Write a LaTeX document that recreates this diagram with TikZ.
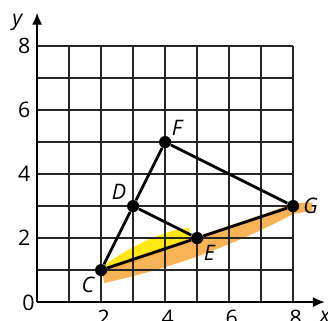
\documentclass[tikz,border=0pt]{standalone}
\usepackage{fontspec}
\setmainfont{Open Sans}
\usetikzlibrary{arrows.meta, positioning}
\definecolor{hlYellow}{RGB}{255,232,20}
\definecolor{hlOrange}{RGB}{246,166,55}
\tikzset{
    ptNode/.style={
        circle,
        fill=black,
        inner sep=0pt,
        minimum size=1.9mm
    },
    ptLabel/.style={font=\itshape\fontsize{9.5}{11}\selectfont, inner sep=1.5pt},
    tickLabel/.style={font=\fontsize{9.5}{11}\selectfont},
    gridLine/.style={black!85, line width=0.8pt},
    segLine/.style={line width=1.25pt}
}

\begin{document}
\begin{tikzpicture}[x=0.5cm, y=0.5cm, >={Latex[length=1.9mm, width=1.6mm]}]
            \useasboundingbox (-1.16,-0.59) rectangle (9.09,9.44);

            % Highlighter marks
            \fill[hlYellow] (2.05,1.12) .. controls (3,1.8) and (4,2.25) .. (4.75,2.32)
                -- (4.8,2.0) .. controls (4,1.6) and (3,1.2) .. (2.1,0.95) -- cycle;
            \fill[hlOrange, opacity=0.85] (2.0,1.05) .. controls (4,1.75) and (6,2.35) .. (8,3.08)
                -- (8.6,3.12) -- (8.6,2.85) -- (8,2.75)
                .. controls (6,1.7) and (4,1.0) .. (2.1,0.6) -- cycle;

            % Grid
            \draw[gridLine, step=0.5cm] (0,0) grid (8,8);

            % Axes
            \coordinate (O) at (0,0);
            \coordinate (xEnd) at (9.0,0);
            \coordinate (yEnd) at (0,9.05);
            \draw[->, line width=1.1pt] (O) -- (xEnd);
            \draw[->, line width=1.1pt] (O) -- (yEnd);
            \node[ptLabel] (xName) at (9.0,-0.47) {x};
            \node[ptLabel] (yName) at (-0.62,8.75) {y};

            % Tick labels
            \node[tickLabel] (zeroLbl) at (-0.27,-0.03) {0};
            \foreach \v in {2,4,6,8} {
                \node[tickLabel] (xLbl\v) at (\v+0.08,-0.5) {\v};
                \node[tickLabel] (yLbl\v) at (-0.4,\v) {\v};
            }

            % Points
            \node[ptNode, label={[ptLabel, label distance=-1pt]below left:C}] (C) at (2,1) {};
            \node[ptNode, label={[ptLabel, label distance=-1pt]above left:D}] (D) at (3,3) {};
            \node[ptNode, label={[ptLabel, label distance=-1pt]above right:F}] (F) at (4,5) {};
            \node[ptNode, label={[ptLabel, label distance=-1pt]below right:E}] (E) at (5,2) {};
            \node[ptNode, label={[ptLabel, label distance=0pt]right:G}] (G) at (8,3) {};

            % Segments
            \draw[segLine] (C) -- (D) -- (F) -- (G) -- (E) -- (C);
            \draw[segLine] (D) -- (E);
        \end{tikzpicture}
\end{document}
